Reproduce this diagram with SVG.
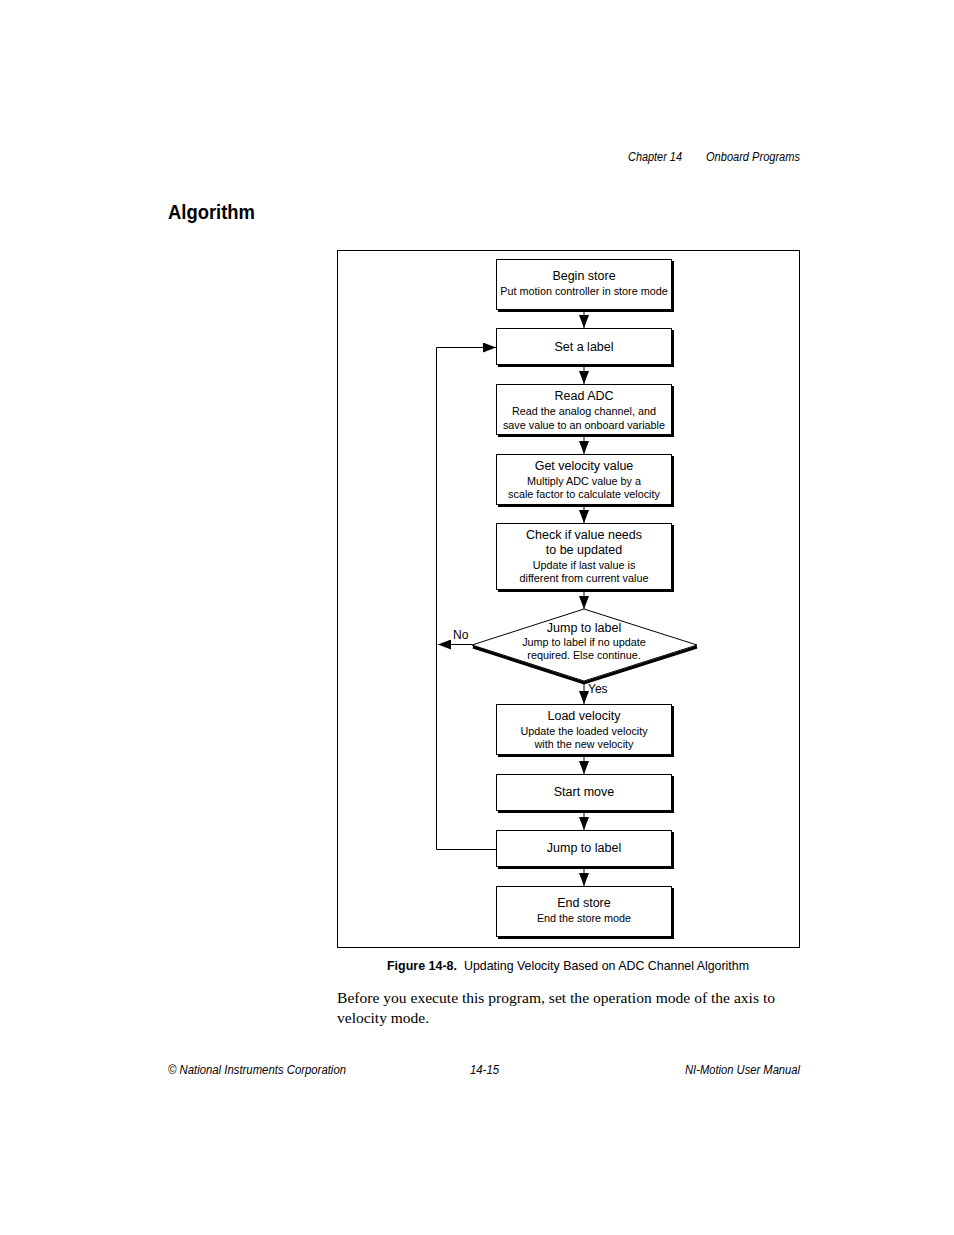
<svg xmlns="http://www.w3.org/2000/svg" width="954" height="1235" viewBox="0 0 954 1235">
<style>
.box{fill:#fff;stroke:#000;stroke-width:1}
.sh{fill:none;stroke:#000;stroke-width:2}
.t{font-family:"Liberation Sans",Arial,sans-serif;font-size:12.5px;text-anchor:middle;fill:#000}
.s{font-family:"Liberation Sans",Arial,sans-serif;font-size:10.8px;text-anchor:middle;fill:#000}
.c{fill:none;stroke:#000;stroke-width:1}
.hd{font-family:"Liberation Sans Narrow","Liberation Sans",Arial,sans-serif;font-size:12px;font-style:italic;fill:#000}
.body{font-family:"Liberation Serif","Times New Roman",serif;font-size:15.5px;fill:#000}
</style>
<defs>
<marker id="ah" viewBox="0 0 13 10" refX="13" refY="5" markerWidth="13" markerHeight="10" markerUnits="userSpaceOnUse" orient="auto">
<path d="M0,0 L13,5 L0,10 Z" fill="#000"/>
</marker>
</defs>
<rect width="954" height="1235" fill="#fff"/>
<text class="hd" x="628" y="161" textLength="54" lengthAdjust="spacingAndGlyphs">Chapter 14</text>
<text class="hd" x="706" y="161" textLength="94" lengthAdjust="spacingAndGlyphs">Onboard Programs</text>
<text x="168" y="219" font-family="Liberation Sans Narrow,Liberation Sans,Arial,sans-serif" font-weight="bold" font-size="21" textLength="87" lengthAdjust="spacingAndGlyphs">Algorithm</text>
<rect x="337.5" y="250.5" width="462" height="697" fill="none" stroke="#000" stroke-width="1"/>
<g id="connectors">
<line class="c" x1="584" y1="311" x2="584" y2="328" marker-end="url(#ah)"/>
<line class="c" x1="584" y1="366" x2="584" y2="384" marker-end="url(#ah)"/>
<line class="c" x1="584" y1="436" x2="584" y2="454" marker-end="url(#ah)"/>
<line class="c" x1="584" y1="506" x2="584" y2="523" marker-end="url(#ah)"/>
<line class="c" x1="584" y1="591" x2="584" y2="609" marker-end="url(#ah)"/>
<line class="c" x1="584" y1="683" x2="584" y2="704" marker-end="url(#ah)"/>
<line class="c" x1="584" y1="756" x2="584" y2="774" marker-end="url(#ah)"/>
<line class="c" x1="584" y1="812" x2="584" y2="830" marker-end="url(#ah)"/>
<line class="c" x1="584" y1="868" x2="584" y2="886" marker-end="url(#ah)"/>
<line class="c" x1="472" y1="644.5" x2="438" y2="644.5" marker-end="url(#ah)"/>
<polyline class="c" points="496,849.5 436.5,849.5 436.5,347.5 496,347.5" marker-end="url(#ah)"/>
<text x="453" y="639" font-family="Liberation Sans,Arial,sans-serif" font-size="12">No</text>
<text x="588" y="693" font-family="Liberation Sans,Arial,sans-serif" font-size="12">Yes</text>
</g>
<g id="n1">
<rect class="box" x="496.5" y="259.5" width="175" height="50"/>
<polyline class="sh" points="673,261 673,311 498,311"/>
<text class="t" x="584" y="280">Begin store</text>
<text class="s" x="584" y="295">Put motion controller in store mode</text>
</g>
<g id="n2">
<rect class="box" x="496.5" y="328.5" width="175" height="36"/>
<polyline class="sh" points="673,330 673,366 498,366"/>
<text class="t" x="584" y="351">Set a label</text>
</g>
<g id="n3">
<rect class="box" x="496.5" y="384.5" width="175" height="50"/>
<polyline class="sh" points="673,386 673,436 498,436"/>
<text class="t" x="584" y="400">Read ADC</text>
<text class="s" x="584" y="415">Read the analog channel, and</text>
<text class="s" x="584" y="429">save value to an onboard variable</text>
</g>
<g id="n4">
<rect class="box" x="496.5" y="454.5" width="175" height="50"/>
<polyline class="sh" points="673,456 673,506 498,506"/>
<text class="t" x="584" y="470">Get velocity value</text>
<text class="s" x="584" y="485">Multiply ADC value by a</text>
<text class="s" x="584" y="498">scale factor to calculate velocity</text>
</g>
<g id="n5">
<rect class="box" x="496.5" y="523.5" width="175" height="66"/>
<polyline class="sh" points="673,525 673,591 498,591"/>
<text class="t" x="584" y="539">Check if value needs</text>
<text class="t" x="584" y="554">to be updated</text>
<text class="s" x="584" y="569">Update if last value is</text>
<text class="s" x="584" y="582">different from current value</text>
</g>
<g id="n6">
<polyline fill="none" stroke="#000" stroke-width="3" points="473,647 584,683 697,647"/>
<polygon fill="#fff" stroke="#000" stroke-width="1" points="584,609 697,645 584,681 472,645"/>
<text class="t" x="584" y="632">Jump to label</text>
<text class="s" x="584" y="646">Jump to label if no update</text>
<text class="s" x="584" y="659">required. Else continue.</text>
</g>
<g id="n7">
<rect class="box" x="496.5" y="704.5" width="175" height="50"/>
<polyline class="sh" points="673,706 673,756 498,756"/>
<text class="t" x="584" y="720">Load velocity</text>
<text class="s" x="584" y="735">Update the loaded velocity</text>
<text class="s" x="584" y="748">with the new velocity</text>
</g>
<g id="n8">
<rect class="box" x="496.5" y="774.5" width="175" height="36"/>
<polyline class="sh" points="673,776 673,812 498,812"/>
<text class="t" x="584" y="796">Start move</text>
</g>
<g id="n9">
<rect class="box" x="496.5" y="830.5" width="175" height="36"/>
<polyline class="sh" points="673,832 673,868 498,868"/>
<text class="t" x="584" y="852">Jump to label</text>
</g>
<g id="n10">
<rect class="box" x="496.5" y="886.5" width="175" height="50"/>
<polyline class="sh" points="673,888 673,938 498,938"/>
<text class="t" x="584" y="907">End store</text>
<text class="s" x="584" y="922">End the store mode</text>
</g>
<text x="387" y="970" font-family="Liberation Sans Narrow,Liberation Sans,Arial,sans-serif" font-size="13" font-weight="bold" textLength="70" lengthAdjust="spacingAndGlyphs">Figure 14-8.</text>
<text x="464" y="970" font-family="Liberation Sans Narrow,Liberation Sans,Arial,sans-serif" font-size="13" textLength="285" lengthAdjust="spacingAndGlyphs">Updating Velocity Based on ADC Channel Algorithm</text>
<text class="body" x="337" y="1003" textLength="438" lengthAdjust="spacingAndGlyphs">Before you execute this program, set the operation mode of the axis to</text>
<text class="body" x="337" y="1023">velocity mode.</text>
<text class="hd" x="168" y="1074" textLength="178" lengthAdjust="spacingAndGlyphs">© National Instruments Corporation</text>
<text class="hd" x="470" y="1074" textLength="29" lengthAdjust="spacingAndGlyphs">14-15</text>
<text class="hd" x="685" y="1074" textLength="115" lengthAdjust="spacingAndGlyphs">NI-Motion User Manual</text>
</svg>
